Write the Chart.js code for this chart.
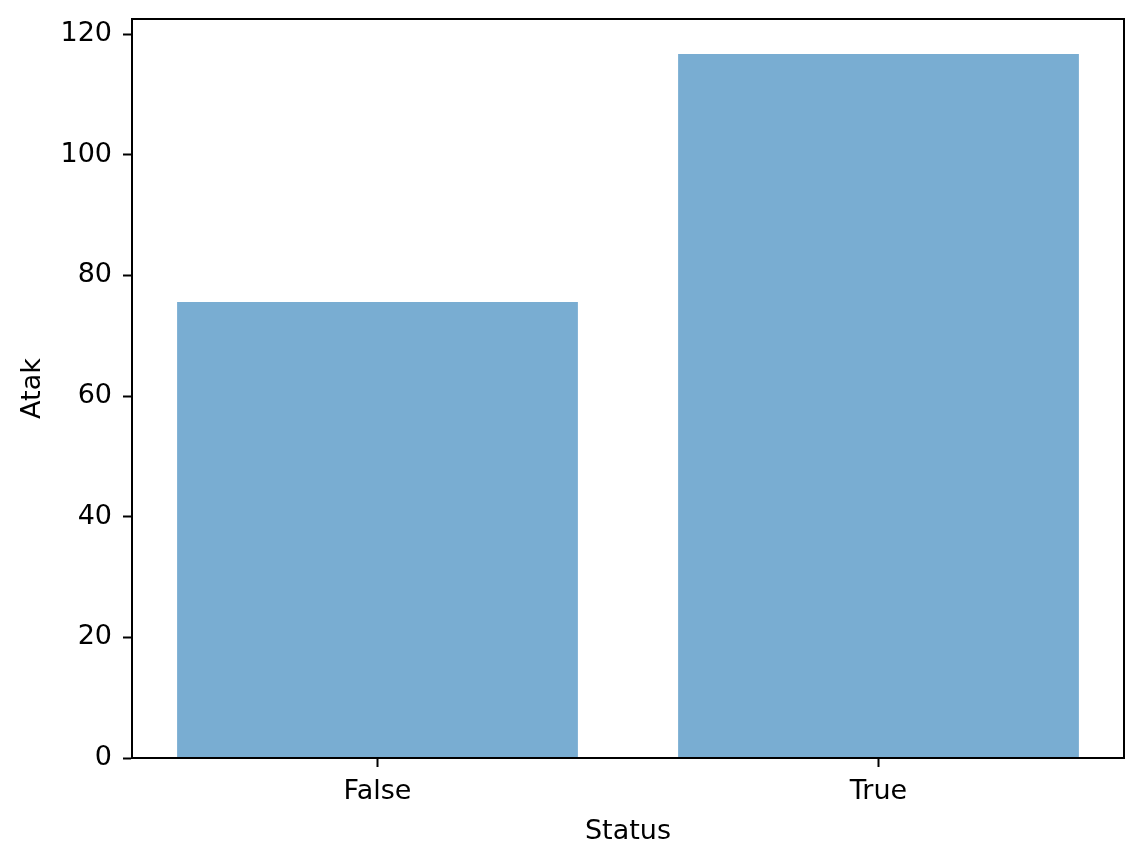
<!DOCTYPE html>
<html>
<head>
<meta charset="utf-8">
<script src="https://cdn.jsdelivr.net/npm/chart.js@4"></script>
<style>
html,body{margin:0;padding:0;background:#fff;}
#wrap{width:1143px;height:865px;position:relative;}
</style>
</head>
<body>
<div id="wrap"><canvas id="c" width="1143" height="865"></canvas></div>
<script>
const categories = ["False", "True"];
const atakValues = [75.6, 116.7];
const yTickValues = [0, 20, 40, 60, 80, 100, 120];
const yMax = 122.5;
const xMin = -0.49;
const xMax = 1.49;

const frame = {
  id: 'frame',
  afterDraw(chart) {
    const {ctx, chartArea: a} = chart;
    ctx.save();
    ctx.strokeStyle = '#000';
    ctx.lineWidth = 2;
    ctx.strokeRect(a.left, a.top, a.right - a.left, a.bottom - a.top);
    ctx.restore();
  }
};

const font = {family: 'DejaVu Sans', size: 27};

new Chart(document.getElementById('c'), {
  type: 'bar',
  data: {
    datasets: [{
      data: categories.map((c, i) => ({x: i, y: atakValues[i]})),
      backgroundColor: 'rgba(31,119,180,0.6)',
      borderWidth: 0,
      barPercentage: 0.8,
      categoryPercentage: 1.0
    }]
  },
  options: {
    responsive: false,
    animation: false,
    devicePixelRatio: 1,
    layout: {padding: {top: 19, right: 19, left: 0, bottom: 0}},
    plugins: {legend: {display: false}, tooltip: {enabled: false}},
    scales: {
      x: {
        type: 'linear',
        min: xMin,
        max: xMax,
        offset: false,
        afterBuildTicks(scale) { scale.ticks = categories.map((c, i) => ({value: i})); },
        grid: {display: true, offset: false, drawOnChartArea: false, drawTicks: true, tickLength: 9, tickWidth: 2, color: '#000'},
        border: {display: true, color: '#000', width: 2},
        ticks: {color: '#000', font: font, padding: 9, maxRotation: 0, autoSkip: false,
                callback: (v) => categories[v]},
        title: {display: true, text: 'Status', color: '#000', font: font, padding: {top: 0, bottom: 17}},
        afterFit(scale) { scale.height = 107; scale.paddingLeft = 0; scale.paddingRight = 0; }
      },
      y: {
        min: 0,
        max: yMax,
        afterBuildTicks(scale) { scale.ticks = yTickValues.map(v => ({value: v})); },
        grid: {display: true, offset: false, drawOnChartArea: false, drawTicks: true, tickLength: 9, tickWidth: 2, color: '#000'},
        border: {display: true, color: '#000', width: 2},
        ticks: {color: '#000', font: font, padding: 11},
        title: {display: true, text: 'Atak', color: '#000', font: font, padding: {top: 17, bottom: 0}},
        afterFit(scale) { scale.width = 132; scale.paddingTop = 0; scale.paddingBottom = 0; }
      }
    }
  },
  plugins: [frame]
});
</script>
</body>
</html>
